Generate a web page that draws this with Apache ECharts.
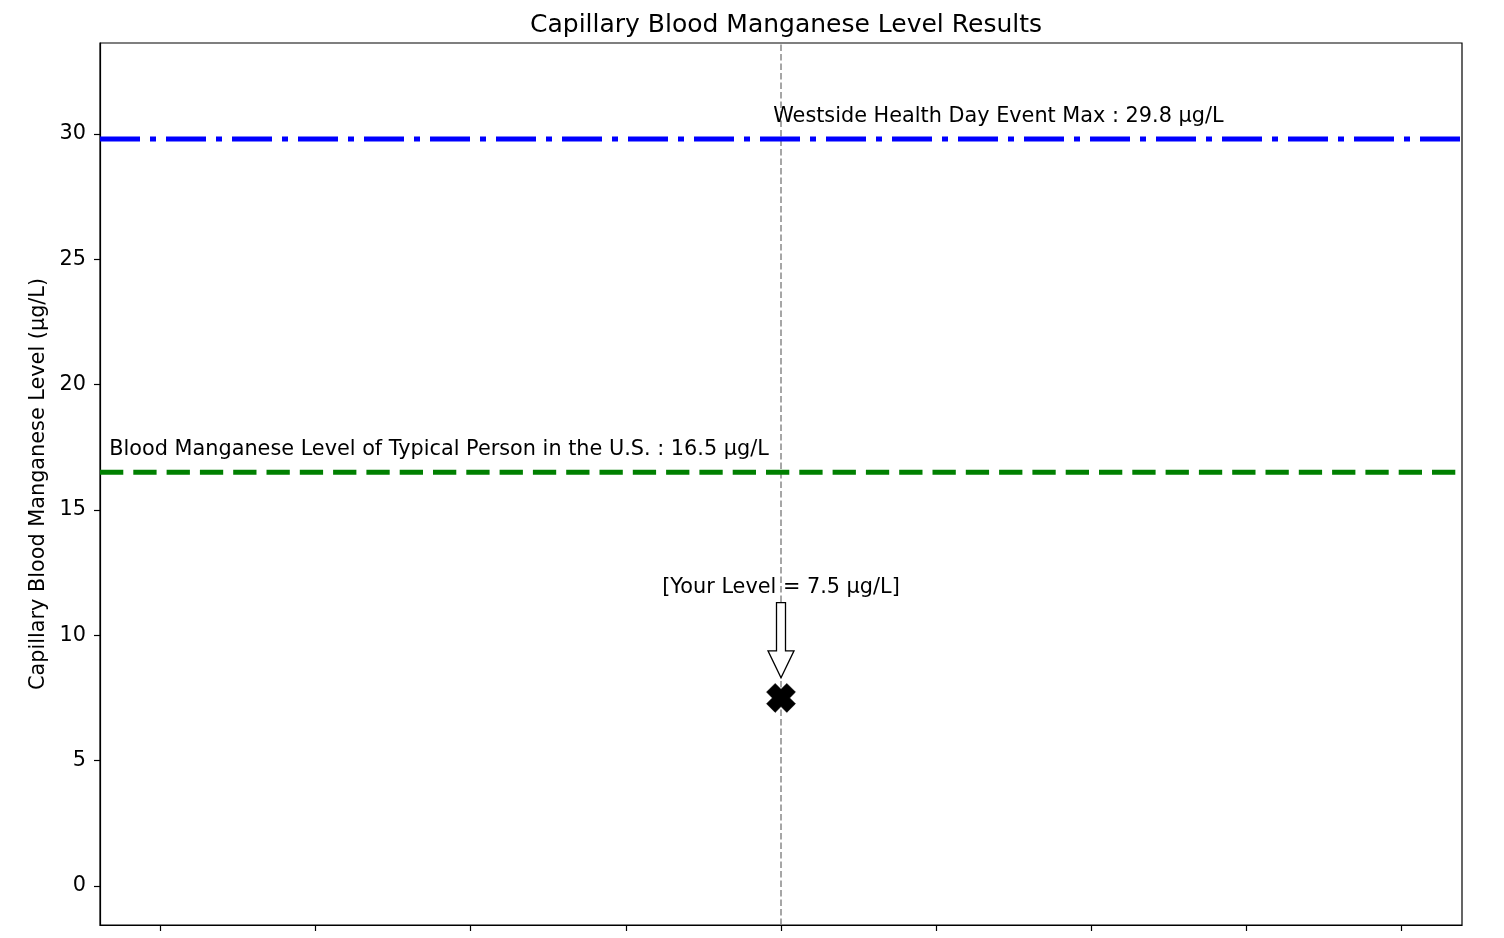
<!DOCTYPE html>
<html>
<head>
<meta charset="utf-8">
<script src="https://cdn.jsdelivr.net/npm/echarts@6/dist/echarts.min.js"></script>
<style>
  html, body { margin: 0; padding: 0; background: #fff; }
  #chart { width: 1504px; height: 938px; }
</style>
</head>
<body>
<div id="chart"></div>
<script>
// values
var yTicks = [0, 5, 10, 15, 20, 25, 30];
var xTicks = [-4, -3, -2, -1, 0, 1, 2, 3, 4];
var typicalLevel = 16.5;
var eventMax = 29.8;
var yourLevel = 7.5;
var yourX = 0;
var arrowFrom = 11.3;   // tail of the arrow
var arrowTo = 8.3;      // tip of the arrow
var noteTexts = [
  'Westside Health Day Event Max : 29.8 µg/L',
  'Blood Manganese Level of Typical Person in the U.S. : 16.5 µg/L',
  '[Your Level = 7.5 µg/L]'
];
var noteX = [-0.05, -4.33, 0];
var noteY = [30.68, 17.4, 11.9];
var noteAlign = ['left', 'left', 'center'];

var xMin = -4.39, xMax = 4.39;
var yMin = -1.56, yMax = 33.63;
var FONT = 'DejaVu Sans';

var chart = echarts.init(document.getElementById('chart'));

var xMarkPath = 'path://M3,0 L5,2 L7,0 L10,3 L8,5 L10,7 L7,10 L5,8 L3,10 L0,7 L2,5 L0,3 Z';

var option = {
  animation: false,
  backgroundColor: '#fff',
  textStyle: { fontFamily: FONT },
  title: {
    text: 'Capillary Blood Manganese Level Results',
    left: 781,
    textAlign: 'center',
    top: 8,
    textStyle: { fontFamily: FONT, fontSize: 25, fontWeight: 'normal', color: '#000' }
  },
  grid: {
    left: 100, right: 42, top: 43, bottom: 13,
    show: true, borderColor: '#000', borderWidth: 1.2, backgroundColor: 'transparent'
  },
  xAxis: {
    type: 'value',
    min: xMin, max: xMax,
    axisLine: { show: true, onZero: false, lineStyle: { color: '#000', width: 1.2 } },
    axisTick: { show: true, customValues: xTicks, length: 6, lineStyle: { color: '#000', width: 1.2 } },
    axisLabel: { show: false },
    splitLine: { show: false }
  },
  yAxis: {
    type: 'value',
    min: yMin, max: yMax,
    name: 'Capillary Blood Manganese Level (µg/L)',
    nameLocation: 'middle',
    nameGap: 50,
    nameTextStyle: { fontFamily: FONT, fontSize: 20.8, color: '#000' },
    axisLine: { show: true, onZero: false, lineStyle: { color: '#000', width: 1.2 } },
    axisTick: { show: true, customValues: yTicks, length: 6, lineStyle: { color: '#000', width: 1.2 } },
    axisLabel: { customValues: yTicks, margin: 14, fontFamily: FONT, fontSize: 20.8, color: '#000' },
    splitLine: { show: false }
  },
  series: [
    {
      name: 'center',
      type: 'line',
      data: [[yourX, yMin], [yourX, yMax]],
      symbol: 'none',
      lineStyle: { color: '#808080', width: 1.4, type: [6.5, 3] },
      z: 1
    },
    {
      name: 'Event Max',
      type: 'line',
      data: [[xMin, eventMax], [xMax, eventMax]],
      symbol: 'none',
      lineStyle: { color: '#0000ff', width: 5, type: [40, 10, 6, 10] },
      z: 2
    },
    {
      name: 'Typical',
      type: 'line',
      data: [[xMin, typicalLevel], [xMax, typicalLevel]],
      symbol: 'none',
      lineStyle: { color: '#008000', width: 5, type: [23.3, 10] },
      z: 2
    },
    {
      name: 'Your Level',
      type: 'scatter',
      data: [[yourX, yourLevel]],
      symbol: xMarkPath,
      symbolSize: 29,
      itemStyle: { color: '#000', opacity: 1, borderColor: '#000', borderWidth: 0.5 },
      z: 3
    },
    {
      name: 'arrow',
      type: 'custom',
      data: [[yourX, arrowFrom, arrowTo]],
      renderItem: function (params, api) {
        var tail = api.coord([api.value(0), api.value(1)]);
        var tip = api.coord([api.value(0), api.value(2)]);
        var cx = tail[0];
        var sw = 4.5, hw = 13, hl = 27;
        var hb = tip[1] - hl;
        return {
          type: 'polygon',
          shape: {
            points: [
              [cx - sw, tail[1]], [cx + sw, tail[1]], [cx + sw, hb], [cx + hw, hb],
              [cx, tip[1]], [cx - hw, hb], [cx - sw, hb]
            ]
          },
          style: { fill: '#fff', stroke: '#000', lineWidth: 1.3 },
          z2: 5
        };
      },
      z: 4
    },
    {
      name: 'notes',
      type: 'custom',
      data: noteTexts.map(function (t, i) { return [noteX[i], noteY[i], i]; }),
      renderItem: function (params, api) {
        var i = api.value(2);
        var p = api.coord([api.value(0), api.value(1)]);
        return {
          type: 'text',
          x: p[0], y: p[1],
          style: {
            text: noteTexts[i],
            fill: '#000',
            font: '20.8px "DejaVu Sans"',
            align: noteAlign[i],
            verticalAlign: 'middle'
          },
          z2: 10
        };
      },
      z: 5
    }
  ]
};

chart.setOption(option);
</script>
</body>
</html>
